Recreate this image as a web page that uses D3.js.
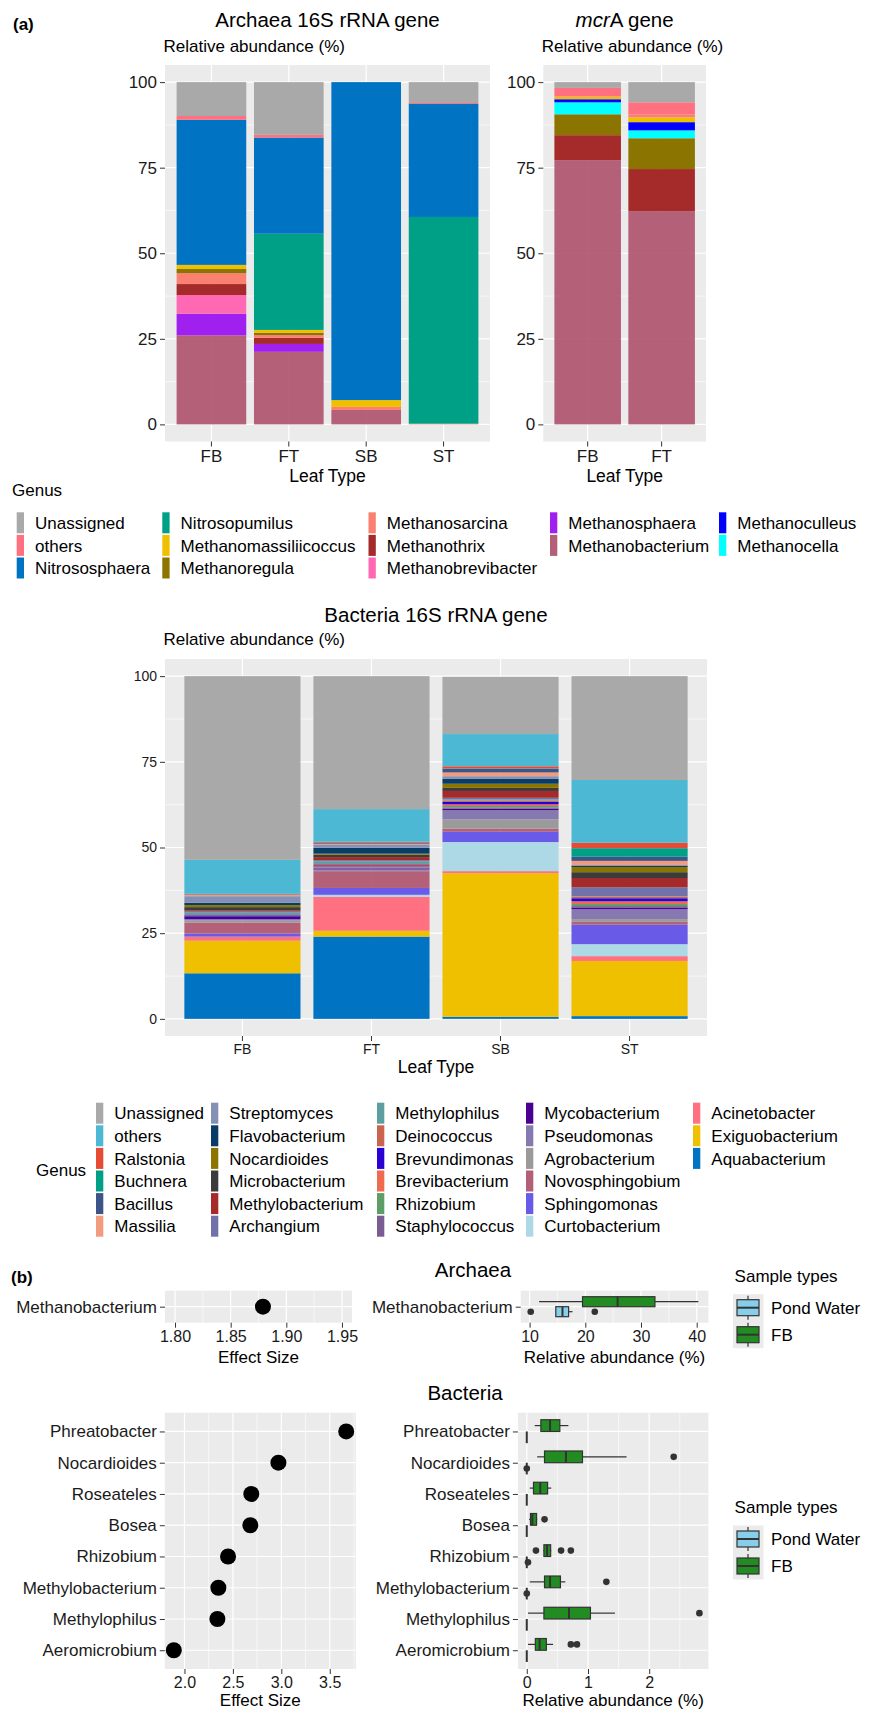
<!DOCTYPE html>
<html>
<head>
<meta charset="utf-8">
<script src="https://cdn.jsdelivr.net/npm/d3@7"></script>
<style>
  body { margin: 0; background: #fff; }
</style>
</head>
<body>
<svg id="chart" width="873" height="1711"></svg>
<script>
// ---- data ----
var leafTypes = ["FB", "FT", "SB", "ST"];
var mcrLeafTypes = ["FB", "FT"];

var archaeaGenera = ["Unassigned", "others", "Nitrososphaera", "Nitrosopumilus", "Methanomassiliicoccus",
  "Methanoregula", "Methanosarcina", "Methanothrix", "Methanobrevibacter", "Methanosphaera",
  "Methanobacterium", "Methanoculleus", "Methanocella"];
var archaeaColors = ["#A9A9A9", "#FF7080", "#0073C2", "#00A087", "#EFC000", "#8B7500", "#FA8072",
  "#A52A2A", "#FF69B4", "#A020F0", "#B35F78", "#0000FF", "#00FFFF"];
// one row per leaf type, values in archaeaGenera order (%)
var archaea16S = [
  [9.9, 1.1, 42.4, 0, 1.2, 1.2, 3.2, 3.2, 5.5, 6.3, 26.0, 0, 0],
  [15.4, 0.8, 28.1, 28.1, 0.8, 0.7, 0.8, 1.8, 0, 2.3, 21.2, 0, 0],
  [0, 0, 92.9, 0, 2.0, 0, 0.9, 0, 0, 0, 4.2, 0, 0],
  [6.1, 0.3, 33.0, 60.4, 0, 0, 0.2, 0, 0, 0, 0, 0, 0]
];

var mcrGenera = ["Unassigned", "others", "Methanosarcina", "Methanomassiliicoccus", "Methanoculleus",
  "Methanocella", "Methanoregula", "Methanothrix", "Methanobacterium"];
var mcrA = [
  [1.7, 2.5, 0, 0.8, 0.9, 3.5, 6.1, 7.3, 77.2],
  [5.9, 3.5, 0.9, 1.4, 2.4, 2.3, 9.0, 12.3, 62.3]
];

var bacteriaGenera = ["Unassigned", "others", "Ralstonia", "Buchnera", "Bacillus", "Massilia",
  "Streptomyces", "Flavobacterium", "Nocardioides", "Microbacterium", "Methylobacterium", "Archangium",
  "Methylophilus", "Deinococcus", "Brevundimonas", "Brevibacterium", "Rhizobium", "Staphylococcus",
  "Mycobacterium", "Pseudomonas", "Agrobacterium", "Novosphingobium", "Sphingomonas", "Curtobacterium",
  "Acinetobacter", "Exiguobacterium", "Aquabacterium"];
var bacteriaColors = ["#A9A9A9", "#4CB8D4", "#E64B35", "#00A087", "#3C5488", "#F39B7F",
  "#8491B4", "#0A3D66", "#8B7500", "#3B3B3B", "#A52A2A", "#7272AA",
  "#5F9EA0", "#C8644F", "#2A00D5", "#EE6A50", "#5E9E66", "#7B5B94",
  "#4B0091", "#8579B0", "#9A9A9A", "#B35F78", "#6A5AE8", "#ADD8E6",
  "#FF7080", "#EFC000", "#0073C2"];
var bacteria16S = [
  [53.6, 9.9, 0, 0, 0.2, 0.5, 1.9, 0.7, 0.6, 1.0, 0.3, 0.3, 0.7, 0.1, 0.3, 0, 0, 0, 0.8, 0.4, 0.6, 3.2, 0.9, 0, 1.2, 9.5, 13.3],
  [38.8, 9.5, 0.3, 0.1, 0.2, 0.2, 1.0, 1.7, 0.3, 0.7, 0.9, 0.3, 0.8, 0.4, 0.3, 0.2, 0.1, 0.3, 0.3, 0.4, 0.1, 4.9, 2.0, 0.6, 9.9, 1.7, 24.0],
  [16.7, 9.4, 0.6, 0.1, 1.1, 1.1, 0.7, 1.5, 1.2, 0.9, 2.0, 0.5, 0.3, 0.4, 0.7, 0.5, 0.4, 0.4, 0.4, 2.7, 2.7, 0.9, 3.0, 8.5, 0.6, 41.9, 0.6],
  [30.3, 18.3, 1.6, 2.5, 1.2, 1.2, 0.2, 0.4, 1.5, 1.7, 2.7, 2.6, 0.1, 0.5, 0.9, 0.8, 0.6, 0.4, 0.5, 2.9, 0.8, 0.8, 5.7, 3.5, 1.4, 16.1, 0.8]
];
var yTicks = [0, 25, 50, 75, 100];

// panel (b): LEfSe effect sizes and box stats [low whisker, q1, median, q3, high whisker]
var archaeaTaxa = ["Methanobacterium"];
var archaeaEffect = [1.879];
var archaeaFB = [[11.7, 19.5, 25.8, 32.5, 40.3]];
var archaeaFBOut = [[]];
var archaeaPond = [[14.7, 14.7, 15.9, 17.0, 17.7]];
var archaeaPondOut = [[10.2, 21.7]];

var bacteriaTaxa = ["Phreatobacter", "Nocardioides", "Roseateles", "Bosea", "Rhizobium",
  "Methylobacterium", "Methylophilus", "Aeromicrobium"];
var bacteriaEffect = [3.67, 2.97, 2.69, 2.68, 2.45, 2.35, 2.34, 1.89];
var bacteriaFB = [
  [0.13, 0.23, 0.38, 0.54, 0.68],
  [0.17, 0.29, 0.64, 0.91, 1.63],
  [0.05, 0.11, 0.22, 0.34, 0.40],
  [0.04, 0.06, 0.09, 0.16, 0.17],
  [0.27, 0.28, 0.33, 0.39, 0.40],
  [0.05, 0.29, 0.38, 0.55, 0.63],
  [0.02, 0.28, 0.69, 1.04, 1.44],
  [0.02, 0.14, 0.21, 0.32, 0.43]
];
var bacteriaFBOut = [[], [2.40], [], [0.29], [0.15, 0.56, 0.72], [1.30], [2.82], [0.72, 0.82]];
var bacteriaPond = [
  [0, 0, 0, 0, 0], [0, 0, 0, 0, 0], [0, 0, 0, 0, 0], [0, 0, 0, 0, 0],
  [0, 0, 0, 0, 0], [0, 0, 0, 0, 0], [0, 0, 0, 0, 0], [0, 0, 0, 0, 0]
];
var bacteriaPondOut = [[], [0.0], [], [], [0.02], [0.0], [], []];

var sampleTypes = ["Pond Water", "FB"];
var sampleColors = ["#87CEEB", "#228B22"];

// ---- drawing ----
var FONT = '"Liberation Sans", Arial, Helvetica, sans-serif';
var svg = d3.select("#chart").attr("font-family", FONT);
var PANEL = "#EBEBEB";
var translucent = ["Methanobacterium", "Novosphingobium"];
var ALPHA = 0.88;

// colour that looks like `hex` once drawn at ALPHA over the panel grey
function underlay(hex) {
  var c = d3.rgb(hex), bg = d3.rgb(PANEL);
  return d3.rgb((c.r - (1 - ALPHA) * bg.r) / ALPHA,
    (c.g - (1 - ALPHA) * bg.g) / ALPHA,
    (c.b - (1 - ALPHA) * bg.b) / ALPHA).formatHex();
}

function text(x, y, str, size, anchor, weight) {
  return svg.append("text")
    .attr("x", x).attr("y", y)
    .attr("font-size", size)
    .attr("text-anchor", anchor || "start")
    .attr("font-weight", weight || "normal")
    .attr("fill", "#000")
    .text(str);
}

function styleAxis(a, size) {
  a.select(".domain").remove();
  a.attr("font-size", size).attr("font-family", FONT).attr("color", "#333");
  a.selectAll("text").attr("fill", "#1a1a1a");
}

function minorBreaks(ticks, domain) {
  var step = ticks[1] - ticks[0], out = [];
  for (var i = -1; i < ticks.length; i++) {
    var m = ticks[0] + step * (i + 0.5);
    if (m > domain[0] && m < domain[1]) out.push(m);
  }
  return out;
}

function barPanel(p) {
  var x = d3.scaleBand().domain(p.cats).range([p.x0, p.x1]).paddingInner(0.1).paddingOuter(0.15);
  var y = d3.scaleLinear().domain([-5, 105]).range([p.y1, p.y0]);
  var color = d3.scaleOrdinal().domain(p.genera).range(p.colors);
  var g = svg.append("g");

  g.append("rect").attr("x", p.x0).attr("y", p.y0)
    .attr("width", p.x1 - p.x0).attr("height", p.y1 - p.y0).attr("fill", PANEL);
  g.selectAll(".minor").data(minorBreaks(yTicks, y.domain())).enter().append("line").attr("class", "minor")
    .attr("x1", p.x0).attr("x2", p.x1).attr("y1", y).attr("y2", y)
    .attr("stroke", "#fff").attr("stroke-width", 0.6);
  g.selectAll(".major").data(yTicks).enter().append("line").attr("class", "major")
    .attr("x1", p.x0).attr("x2", p.x1).attr("y1", y).attr("y2", y)
    .attr("stroke", "#fff").attr("stroke-width", 1.2);
  g.selectAll(".vgrid").data(p.cats).enter().append("line").attr("class", "vgrid")
    .attr("x1", function (d) { return x(d) + x.bandwidth() / 2; })
    .attr("x2", function (d) { return x(d) + x.bandwidth() / 2; })
    .attr("y1", p.y0).attr("y2", p.y1)
    .attr("stroke", "#fff").attr("stroke-width", 1.2);

  var table = p.cats.map(function (c, i) {
    var row = { cat: c };
    p.genera.forEach(function (gn, j) { row[gn] = p.values[i][j]; });
    return row;
  });
  var series = d3.stack().keys(p.genera.slice().reverse())(table);

  g.selectAll(".series").data(series).enter().append("g").attr("class", "series")
    .attr("fill", function (d) {
      return translucent.indexOf(d.key) >= 0 ? underlay(color(d.key)) : color(d.key);
    })
    .attr("fill-opacity", function (d) { return translucent.indexOf(d.key) >= 0 ? ALPHA : 1; })
    .selectAll("rect")
    .data(function (d) { return d.filter(function (s) { return s[1] - s[0] > 0; }); })
    .enter().append("rect")
    .attr("x", function (d) { return x(d.data.cat); })
    .attr("width", x.bandwidth())
    .attr("y", function (d) { return y(d[1]); })
    .attr("height", function (d) { return y(d[0]) - y(d[1]); });

  var ya = g.append("g").attr("transform", "translate(" + p.x0 + ",0)")
    .call(d3.axisLeft(y).tickValues(yTicks).tickSize(5).tickPadding(3));
  var xa = g.append("g").attr("transform", "translate(0," + p.y1 + ")")
    .call(d3.axisBottom(x).tickSize(5).tickPadding(3));
  styleAxis(ya, p.tickFont);
  styleAxis(xa, p.tickFont);

  text(p.x0 - 1.5, p.subY, "Relative abundance (%)", 17);
  text((p.x0 + p.x1) / 2, p.leafY, "Leaf Type", 17.5, "middle");
}

// colSizes: how many keys sit in each legend column
function genusLegend(genera, colors, cols, colSizes, top, titleX, titleY) {
  text(titleX, titleY, "Genus", 17);
  var g = svg.append("g");
  var c = 0, r = 0;
  genera.forEach(function (gn, i) {
    if (r >= colSizes[c]) { c++; r = 0; }
    var ky = top + r * 22.6;
    g.append("rect").attr("x", cols[c]).attr("y", ky).attr("width", 7.3).attr("height", 21)
      .attr("fill", colors[i]);
    g.append("text").attr("x", cols[c] + 18.3).attr("y", ky + 10.5).attr("dy", "0.36em")
      .attr("font-size", 17).attr("fill", "#000").text(gn);
    r++;
  });
}

// panel (a)
text(13, 30, "(a)", 17, "start", "bold");

text(327.5, 27, "Archaea 16S rRNA gene", 20.5, "middle");
barPanel({ cats: leafTypes, genera: archaeaGenera, colors: archaeaColors, values: archaea16S,
  x0: 165, x1: 490, y0: 65, y1: 441.5, tickFont: 17, subY: 52, leafY: 482 });

var mcrTitle = text(624.6, 27, "", 20.5, "middle");
mcrTitle.append("tspan").attr("font-style", "italic").text("mcr");
mcrTitle.append("tspan").text("A gene");
barPanel({ cats: mcrLeafTypes, genera: mcrGenera,
  colors: mcrGenera.map(function (g) { return archaeaColors[archaeaGenera.indexOf(g)]; }),
  values: mcrA, x0: 543.3, x1: 706, y0: 65, y1: 441.5, tickFont: 17, subY: 52, leafY: 482 });

genusLegend(archaeaGenera, archaeaColors, [16.7, 162.3, 368.5, 550, 719], [3, 3, 3, 2, 2], 512.3, 12, 496);

text(436, 621.7, "Bacteria 16S rRNA gene", 20.5, "middle");
barPanel({ cats: leafTypes, genera: bacteriaGenera, colors: bacteriaColors, values: bacteria16S,
  x0: 165, x1: 707, y0: 659, y1: 1036, tickFont: 14, subY: 645, leafY: 1073.3 });

genusLegend(bacteriaGenera, bacteriaColors, [96, 211, 377, 526, 693], [6, 6, 6, 6, 3], 1102.7, 36, 1176);

// panel (b)
function gridPanel(g, x, y, x0, x1, y0, y1, ticks, cats) {
  g.append("rect").attr("x", x0).attr("y", y0).attr("width", x1 - x0).attr("height", y1 - y0)
    .attr("fill", PANEL);
  g.selectAll(".minor").data(minorBreaks(ticks, x.domain())).enter().append("line").attr("class", "minor")
    .attr("x1", x).attr("x2", x).attr("y1", y0).attr("y2", y1)
    .attr("stroke", "#fff").attr("stroke-width", 0.6);
  g.selectAll(".major").data(ticks).enter().append("line").attr("class", "major")
    .attr("x1", x).attr("x2", x).attr("y1", y0).attr("y2", y1)
    .attr("stroke", "#fff").attr("stroke-width", 1.2);
  g.selectAll(".hgrid").data(cats).enter().append("line").attr("class", "hgrid")
    .attr("x1", x0).attr("x2", x1).attr("y1", y).attr("y2", y)
    .attr("stroke", "#fff").attr("stroke-width", 1.2);
}

function lefsePanel(p) {
  var y = d3.scalePoint().domain(p.taxa).range([p.y0, p.y1]).padding(0.6);
  var g = svg.append("g");

  // effect sizes
  var xe = d3.scaleLinear().domain(p.effDomain).range([p.ex0, p.ex1]);
  gridPanel(g, xe, y, p.ex0, p.ex1, p.y0, p.y1, p.effTicks, p.taxa);
  g.selectAll(".dot").data(p.taxa).enter().append("circle").attr("class", "dot")
    .attr("cx", function (d, i) { return xe(p.effect[i]); })
    .attr("cy", function (d) { return y(d); })
    .attr("r", 8).attr("fill", "#000");
  var a1 = g.append("g").attr("transform", "translate(0," + p.y1 + ")")
    .call(d3.axisBottom(xe).tickValues(p.effTicks).tickFormat(d3.format(p.effFmt)).tickSize(5).tickPadding(3));
  var a2 = g.append("g").attr("transform", "translate(" + p.ex0 + ",0)")
    .call(d3.axisLeft(y).tickSize(5).tickPadding(3));
  styleAxis(a1, 16);
  styleAxis(a2, 17);
  text((p.ex0 + p.ex1) / 2, p.y1 + p.titleGap, "Effect Size", 17, "middle");

  // abundance boxplots
  var xb = d3.scaleLinear().domain(p.boxDomain).range([p.bx0, p.bx1]);
  var gb = svg.append("g");
  gridPanel(gb, xb, y, p.bx0, p.bx1, p.y0, p.y1, p.boxTicks, p.taxa);
  var half = y.step() * 0.1875;
  var groups = [
    { stats: p.fb, out: p.fbOut, fill: sampleColors[1], off: -half },
    { stats: p.pond, out: p.pondOut, fill: sampleColors[0], off: half }
  ];
  groups.forEach(function (grp) {
    p.taxa.forEach(function (t, i) {
      var s = grp.stats[i], cy = y(t) + grp.off;
      gb.append("line").attr("x1", xb(s[0])).attr("x2", xb(s[1])).attr("y1", cy).attr("y2", cy)
        .attr("stroke", "#333").attr("stroke-width", 1.2);
      gb.append("line").attr("x1", xb(s[3])).attr("x2", xb(s[4])).attr("y1", cy).attr("y2", cy)
        .attr("stroke", "#333").attr("stroke-width", 1.2);
      gb.append("rect").attr("x", xb(s[1])).attr("y", cy - half)
        .attr("width", xb(s[3]) - xb(s[1])).attr("height", 2 * half)
        .attr("fill", grp.fill).attr("stroke", "#333").attr("stroke-width", 1.2);
      gb.append("line").attr("x1", xb(s[2])).attr("x2", xb(s[2]))
        .attr("y1", cy - half).attr("y2", cy + half)
        .attr("stroke", "#333").attr("stroke-width", 2);
      grp.out[i].forEach(function (v) {
        gb.append("circle").attr("cx", xb(v)).attr("cy", cy).attr("r", 3.3).attr("fill", "#333");
      });
    });
  });
  var b1 = gb.append("g").attr("transform", "translate(0," + p.y1 + ")")
    .call(d3.axisBottom(xb).tickValues(p.boxTicks).tickFormat(d3.format("d")).tickSize(5).tickPadding(3));
  var b2 = gb.append("g").attr("transform", "translate(" + p.bx0 + ",0)")
    .call(d3.axisLeft(y).tickSize(5).tickPadding(3));
  styleAxis(b1, 16);
  styleAxis(b2, 17);
  text((p.bx0 + p.bx1) / 2, p.y1 + p.titleGap, "Relative abundance (%)", 17, "middle");

  // legend
  text(734.6, p.legY, "Sample types", 17);
  var kTop = p.legY + 12.5, kH = 27;
  var lg = svg.append("g");
  lg.append("rect").attr("x", 733).attr("y", kTop).attr("width", 30.5).attr("height", kH * 2)
    .attr("fill", PANEL);
  sampleTypes.forEach(function (st, i) {
    var cy = kTop + kH * i + kH / 2;
    lg.append("line").attr("x1", 748).attr("x2", 748).attr("y1", cy - 12).attr("y2", cy + 12)
      .attr("stroke", "#333").attr("stroke-width", 1.2);
    lg.append("rect").attr("x", 737).attr("y", cy - 8).attr("width", 22).attr("height", 16)
      .attr("fill", sampleColors[i]).attr("stroke", "#333").attr("stroke-width", 1.2);
    lg.append("line").attr("x1", 737).attr("x2", 759).attr("y1", cy).attr("y2", cy)
      .attr("stroke", "#333").attr("stroke-width", 2);
    lg.append("text").attr("x", 771).attr("y", cy).attr("dy", "0.36em")
      .attr("font-size", 17).attr("fill", "#000").text(st);
  });
}

text(11, 1283, "(b)", 17, "start", "bold");
text(473, 1277, "Archaea", 20.5, "middle");
lefsePanel({
  taxa: archaeaTaxa, effect: archaeaEffect,
  fb: archaeaFB, fbOut: archaeaFBOut, pond: archaeaPond, pondOut: archaeaPondOut,
  y0: 1290.7, y1: 1322.7, titleGap: 40,
  ex0: 165, ex1: 352, effDomain: [1.791, 1.959], effTicks: [1.80, 1.85, 1.90, 1.95], effFmt: ".2f",
  bx0: 520.7, bx1: 708.4, boxDomain: [8.4, 42.1], boxTicks: [10, 20, 30, 40],
  legY: 1281.7
});

text(465, 1400, "Bacteria", 20.5, "middle");
lefsePanel({
  taxa: bacteriaTaxa, effect: bacteriaEffect,
  fb: bacteriaFB, fbOut: bacteriaFBOut, pond: bacteriaPond, pondOut: bacteriaPondOut,
  y0: 1412.7, y1: 1669, titleGap: 37,
  ex0: 164.8, ex1: 355.9, effDomain: [1.797, 3.77], effTicks: [2.0, 2.5, 3.0, 3.5], effFmt: ".1f",
  bx0: 517.9, bx1: 708.4, boxDomain: [-0.145, 2.967], boxTicks: [0, 1, 2],
  legY: 1513
});
</script>
</body>
</html>
